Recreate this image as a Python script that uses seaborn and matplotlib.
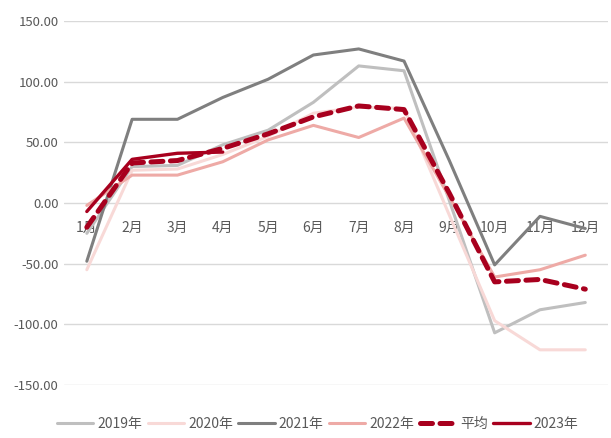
import matplotlib
matplotlib.use("Agg")
import matplotlib.pyplot as plt
import matplotlib.ticker as mticker
import seaborn as sns
import pandas as pd

# data
months = ["1月", "2月", "3月", "4月", "5月", "6月", "7月", "8月", "9月", "10月", "11月", "12月"]
y2019 = [-25, 30, 31, 48, 60, 83, 113, 109, 2, -107, -88, -82]
y2020 = [-55, 27, 28, 40, 55, 74, 79, 78, -10, -97, -121, -121]
y2021 = [-48, 69, 69, 87, 102, 122, 127, 117, 35, -51, -11, -21]
y2022 = [-2, 23, 23, 34, 52, 64, 54, 70, 5, -61, -55, -43]
avg = [-20, 33, 35, 45, 57, 71, 80, 77, 8, -65, -63, -71]
y2023 = [-7, 36, 41, 42]

series = [
    ("2019年", y2019, "#bfbfbf", "-", 2.2),
    ("2020年", y2020, "#f8d9d7", "-", 2.2),
    ("2021年", y2021, "#7f7f7f", "-", 2.2),
    ("2022年", y2022, "#eeaaa6", "-", 2.2),
    ("平均", avg, "#a8001e", "--", 3.6),
    ("2023年", y2023, "#a8001e", "-", 2.4),
]

sns.set_theme(style="white")
plt.rcParams["font.family"] = ["Noto Sans CJK SC", "DejaVu Sans"]
plt.rcParams["axes.unicode_minus"] = False

fig = plt.figure(figsize=(6.11, 4.38), dpi=100)
ax = fig.add_axes([0.105, 0.121, 0.89, 0.831])

x_all = list(range(len(months)))
for name, vals, color, ls, lw in series:
    df = pd.DataFrame({"x": x_all[:len(vals)], "y": vals})
    sns.lineplot(data=df, x="x", y="y", ax=ax, color=color, linewidth=lw,
                 label=name, sort=False)
    if ls == "--":
        ax.lines[-1].set_dash_capstyle("round")
        ax.lines[-1].set_linestyle((0, (2.4, 1.5)))

ax.set_xlim(-0.5, 11.5)
ax.set_ylim(-150, 150)
ax.set_yticks(range(-150, 151, 50))
ax.yaxis.set_major_formatter(mticker.FormatStrFormatter("%.2f"))
ax.set_xticks(x_all)
ax.set_xticklabels(months)
ax.grid(axis="y", color="#d9d9d9", linewidth=1)
ax.set_axisbelow(True)
for s in ["left", "right", "top"]:
    ax.spines[s].set_visible(False)
ax.spines["bottom"].set_position(("data", 0))
ax.spines["bottom"].set_visible(False)
ax.tick_params(axis="x", length=0, pad=13, labelsize=10, labelcolor="#595959")
ax.tick_params(axis="y", length=0, pad=4, labelsize=9.5, labelcolor="#595959")
ax.set_xlabel("")
ax.set_ylabel("")

ax.legend_.remove()
handles, labels = ax.get_legend_handles_labels()
fig.legend(handles, labels, loc="center", bbox_to_anchor=(0.52, 0.032), ncol=6,
           frameon=False, fontsize=10, handlelength=2.6, columnspacing=0.4,
           handletextpad=0.3, labelcolor="#595959")

fig.savefig("out.png", dpi=100)
